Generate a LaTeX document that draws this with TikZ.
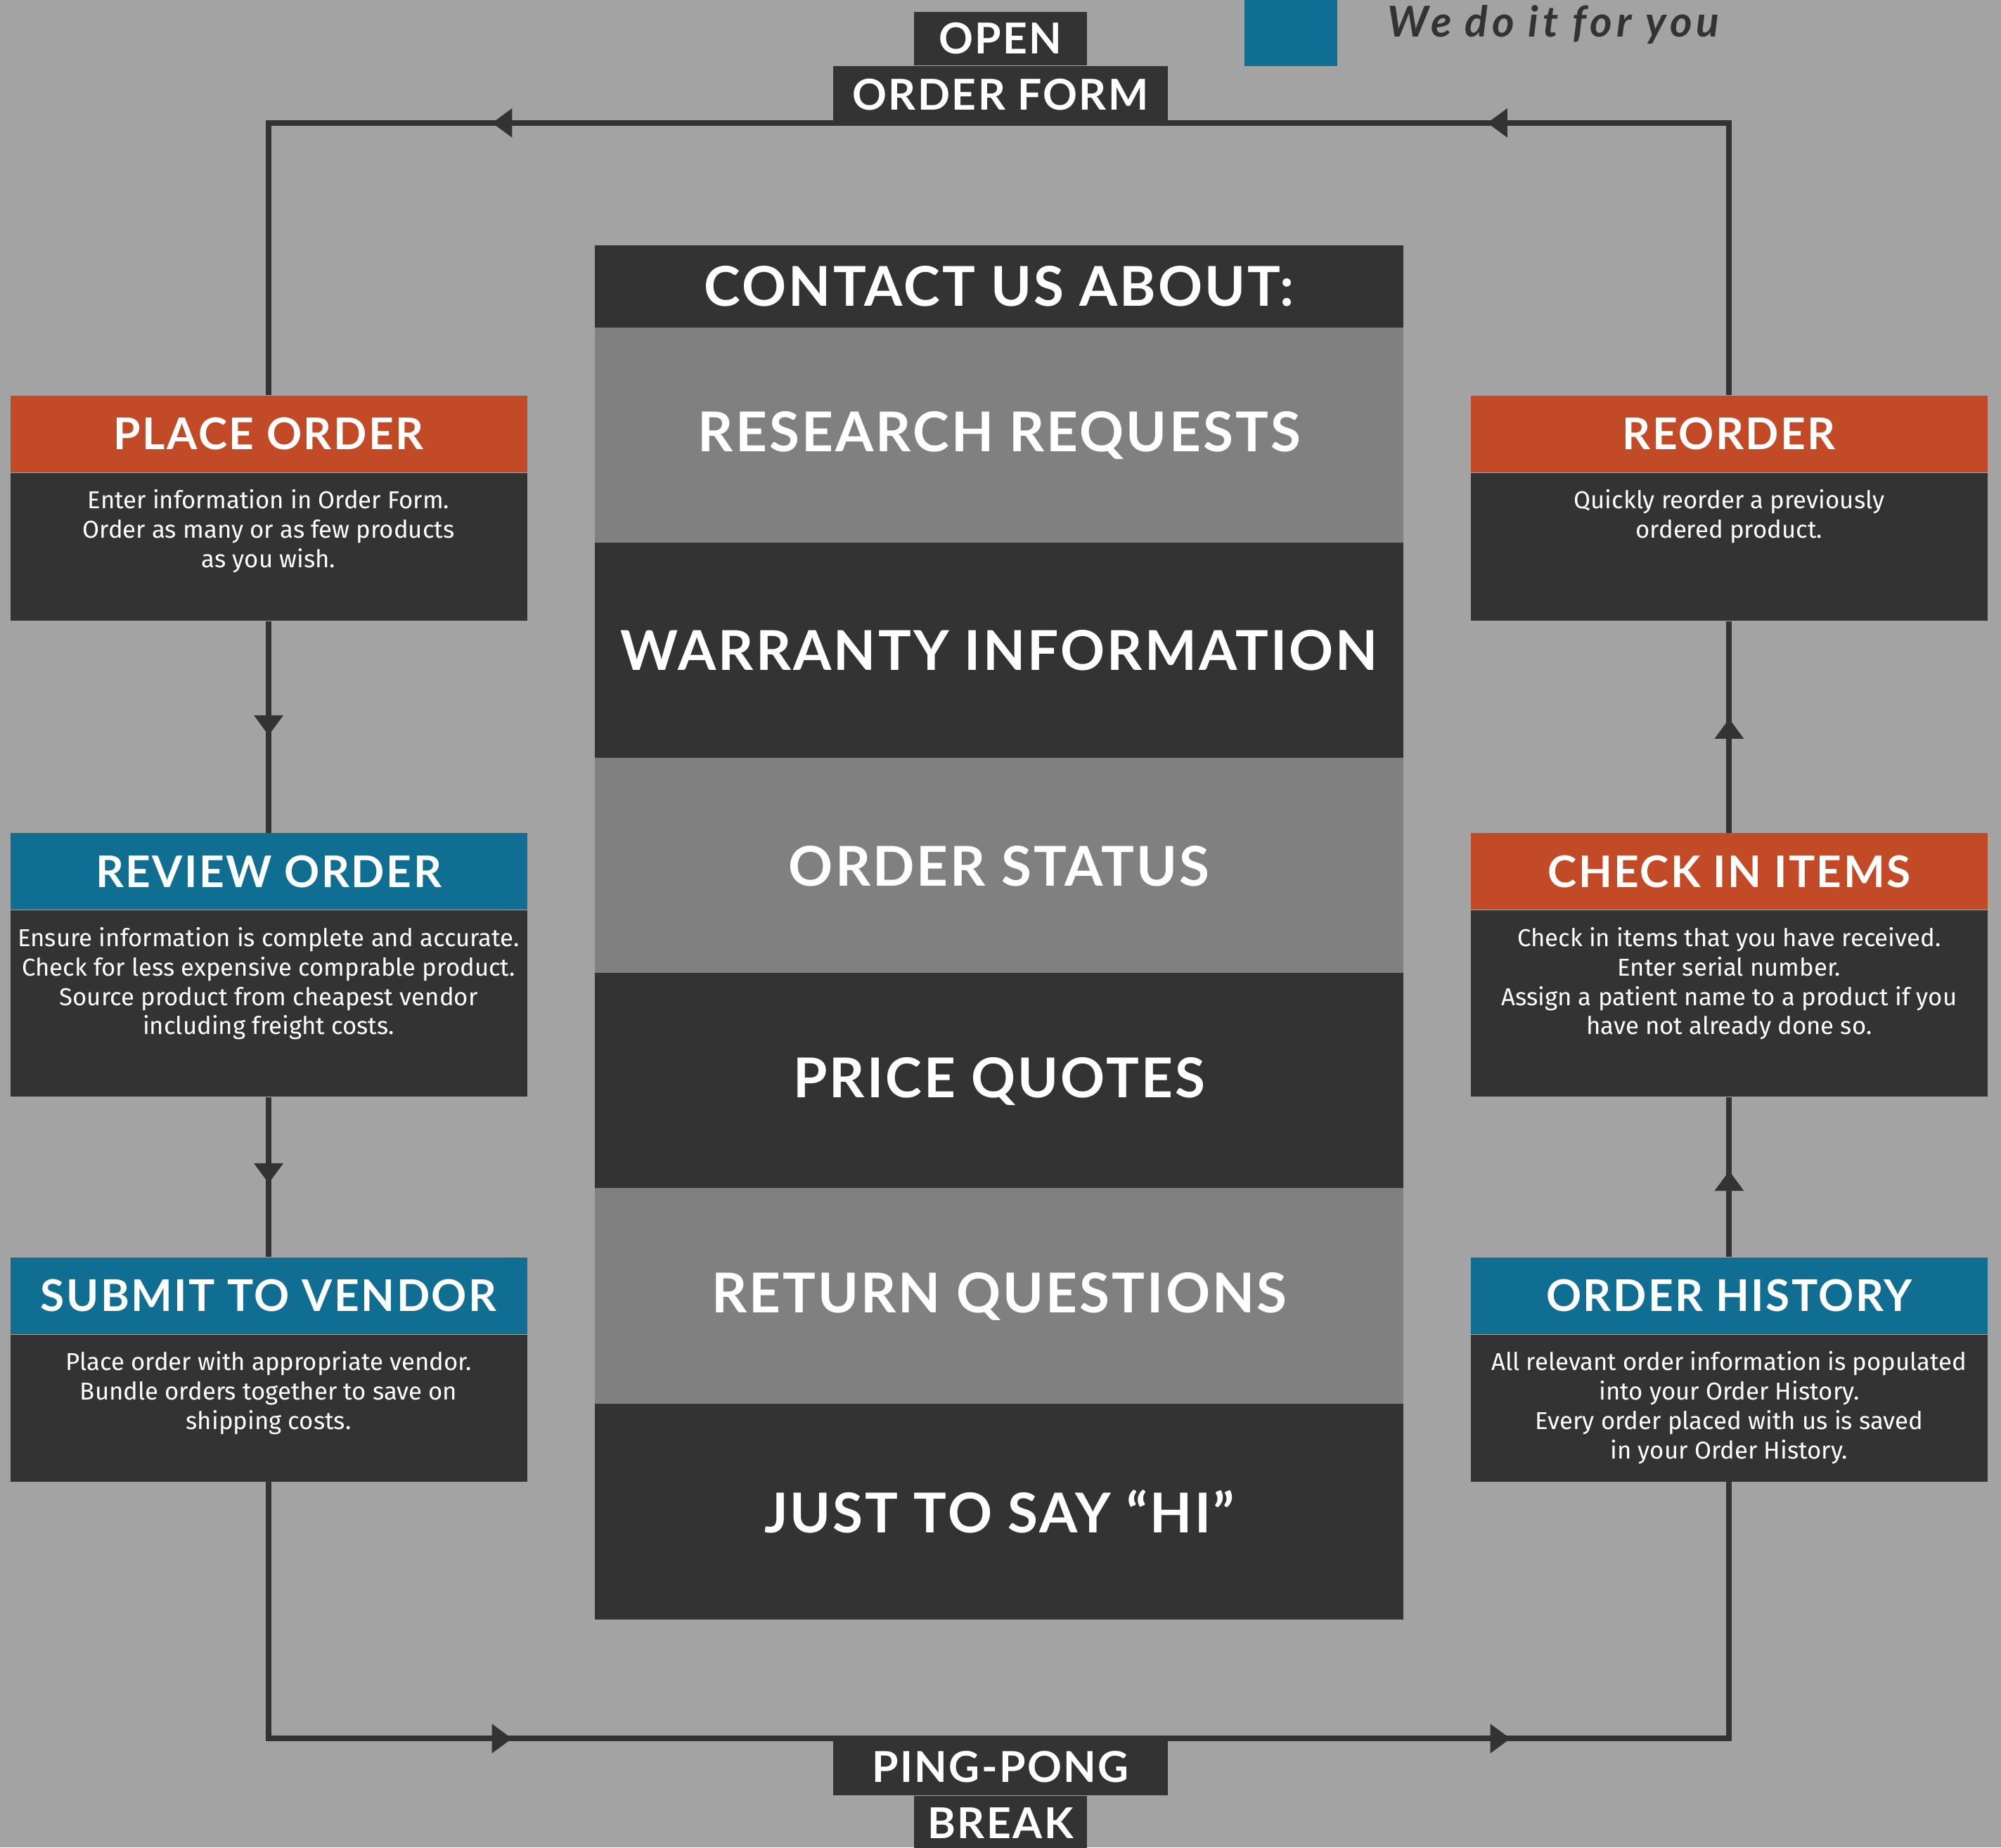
\documentclass[tikz,border=0pt]{standalone}
\usepackage{fontspec}
\setmainfont{Fira Sans}
\newfontfamily\headfont{Lato}[LetterSpace=4]
\usetikzlibrary{arrows.meta,decorations.markings,positioning}

\definecolor{backdrop}{HTML}{A3A3A3}
\definecolor{charcoal}{HTML}{333333}
\definecolor{slate}{HTML}{808080}
\definecolor{rust}{HTML}{C34A26}
\definecolor{ocean}{HTML}{0F6E91}

% texto do corpo, alinhado em cima
\newcommand{\bodytext}[2]{\parbox[c][#1][t]{8cm}{\centering\vspace*{7.5pt}#2}}

\tikzset{
  head/.style={fill=#1, text=white, minimum width=8.1cm, minimum height=1.2cm, inner sep=0pt,
    font=\headfont\bfseries\fontsize{19.5}{24}\selectfont},
  body/.style={fill=charcoal, text=white, minimum width=8.1cm, inner sep=0pt, anchor=north,
    font=\fontsize{10.9}{13.1}\selectfont},
  topic/.style={fill=#1, text=white, minimum width=12.68cm, minimum height=3.39cm, inner sep=0pt,
    font=\headfont\bfseries\fontsize{24.5}{30}\selectfont},
  tag/.style={fill=charcoal, text=white, inner sep=0pt,
    font=\headfont\bfseries\fontsize{19}{23}\selectfont},
  wire/.style={draw, color=charcoal, line width=2.5pt},
  onetip/.style={decoration={markings,
      mark=at position #1 with {\arrow{Triangle[width=12.5pt,length=9pt]}}},
    postaction={decorate}},
  twotips/.style 2 args={decoration={markings,
      mark=at position #1 with {\arrow{Triangle[width=12.5pt,length=9pt]}},
      mark=at position #2 with {\arrow{Triangle[width=12.5pt,length=9pt]}}},
    postaction={decorate}},
}

\begin{document}
\begin{tikzpicture}[x=0.02cm, y=-0.02cm]
    \useasboundingbox (0,0) rectangle (1568,1448);
    \fill[backdrop] (0,0) rectangle (1568,1448);

    % Coluna da esquerda
    \node[head=rust] (placeH) at (210.5,340) {PLACE ORDER};
    \node[body, minimum height=2.32cm] (placeB) at (placeH.south)
        {\bodytext{2.32cm}{Enter information in Order Form.\\Order as many or as few products\\as you wish.}};
    \node[head=ocean] (reviewH) at (210.5,683) {REVIEW ORDER};
    \node[body, minimum height=2.92cm] (reviewB) at (reviewH.south)
        {\bodytext{2.92cm}{Ensure information is complete and accurate.\\Check for less expensive comprable product.\\Source product from cheapest vendor\\including freight costs.}};
    \node[head=ocean] (submitH) at (210.5,1015.5) {SUBMIT TO VENDOR};
    \node[body, minimum height=2.3cm] (submitB) at (submitH.south)
        {\bodytext{2.3cm}{Place order with appropriate vendor.\\Bundle orders together to save on\\shipping costs.}};

    % Coluna da direita
    \node[head=rust] (reorderH) at (1355,340) {REORDER};
    \node[body, minimum height=2.32cm] (reorderB) at (reorderH.south)
        {\bodytext{2.32cm}{Quickly reorder a previously\\ordered product.}};
    \node[head=rust] (checkH) at (1355,683) {CHECK IN ITEMS};
    \node[body, minimum height=2.92cm] (checkB) at (checkH.south)
        {\bodytext{2.92cm}{Check in items that you have received.\\Enter serial number.\\Assign a patient name to a product if you\\have not already done so.}};
    \node[head=ocean] (historyH) at (1355,1015.5) {ORDER HISTORY};
    \node[body, minimum height=2.3cm] (historyB) at (historyH.south)
        {\bodytext{2.3cm}{All relevant order information is populated\\into your Order History.\\Every order placed with us is saved\\in your Order History.}};

    % Coluna central
    \node[topic=charcoal, minimum height=1.3cm] (contact) at (783,224.5) {CONTACT US ABOUT:};
    \foreach \txt/\tone [count=\i] in {RESEARCH REQUESTS/slate, WARRANTY INFORMATION/charcoal,
        ORDER STATUS/slate, PRICE QUOTES/charcoal, RETURN QUESTIONS/slate, JUST TO SAY “HI”/charcoal}
        \node[topic=\tone] (topic\i) at (783,{257+(\i-0.5)*168.67}) {\txt};

    % Rótulos do percurso
    \node[tag, minimum width=5.24cm, minimum height=0.88cm] (openB) at (784,74) {ORDER FORM};
    \node[tag, minimum width=2.72cm, minimum height=0.84cm, above=0pt of openB] (openT) {OPEN};
    \node[tag, minimum width=5.24cm, minimum height=0.88cm] (pingT) at (784,1385) {PING-PONG};
    \node[tag, minimum width=2.72cm, minimum height=0.84cm, below=0pt of pingT] (pingB) {BREAK};

    % Percurso
    \draw[wire, twotips={8.06cm}{23.66cm}] (reorderH.north) -- (reorderH.north |- openB.south)
        -- (placeH.north |- openB.south) -- (placeH.north);
    \draw[wire, onetip=0.54] (placeB.south) -- (reviewH.north);
    \draw[wire, onetip=0.54] (reviewB.south) -- (submitH.north);
    \draw[wire, twotips={7.84cm}{23.49cm}] (submitB.south) -- (submitB.south |- pingT.north)
        -- (historyB.south |- pingT.north) -- (historyB.south);
    \draw[wire, onetip=0.54] (historyH.north) -- (checkB.south);
    \draw[wire, onetip=0.54] (checkH.north) -- (reorderB.south);

    % Legenda
    \node[fill=ocean, minimum width=1.46cm, minimum height=1.04cm, inner sep=0pt] (legendsq) at (1011.5,26) {};
    \node[anchor=base west, inner sep=0pt, text=charcoal,
        font=\headfont\bfseries\itshape\fontsize{19}{23}\selectfont\addfontfeature{LetterSpace=10}]
        (legendtxt) at (1087,29) {We do it for you};

\end{tikzpicture}
\end{document}
